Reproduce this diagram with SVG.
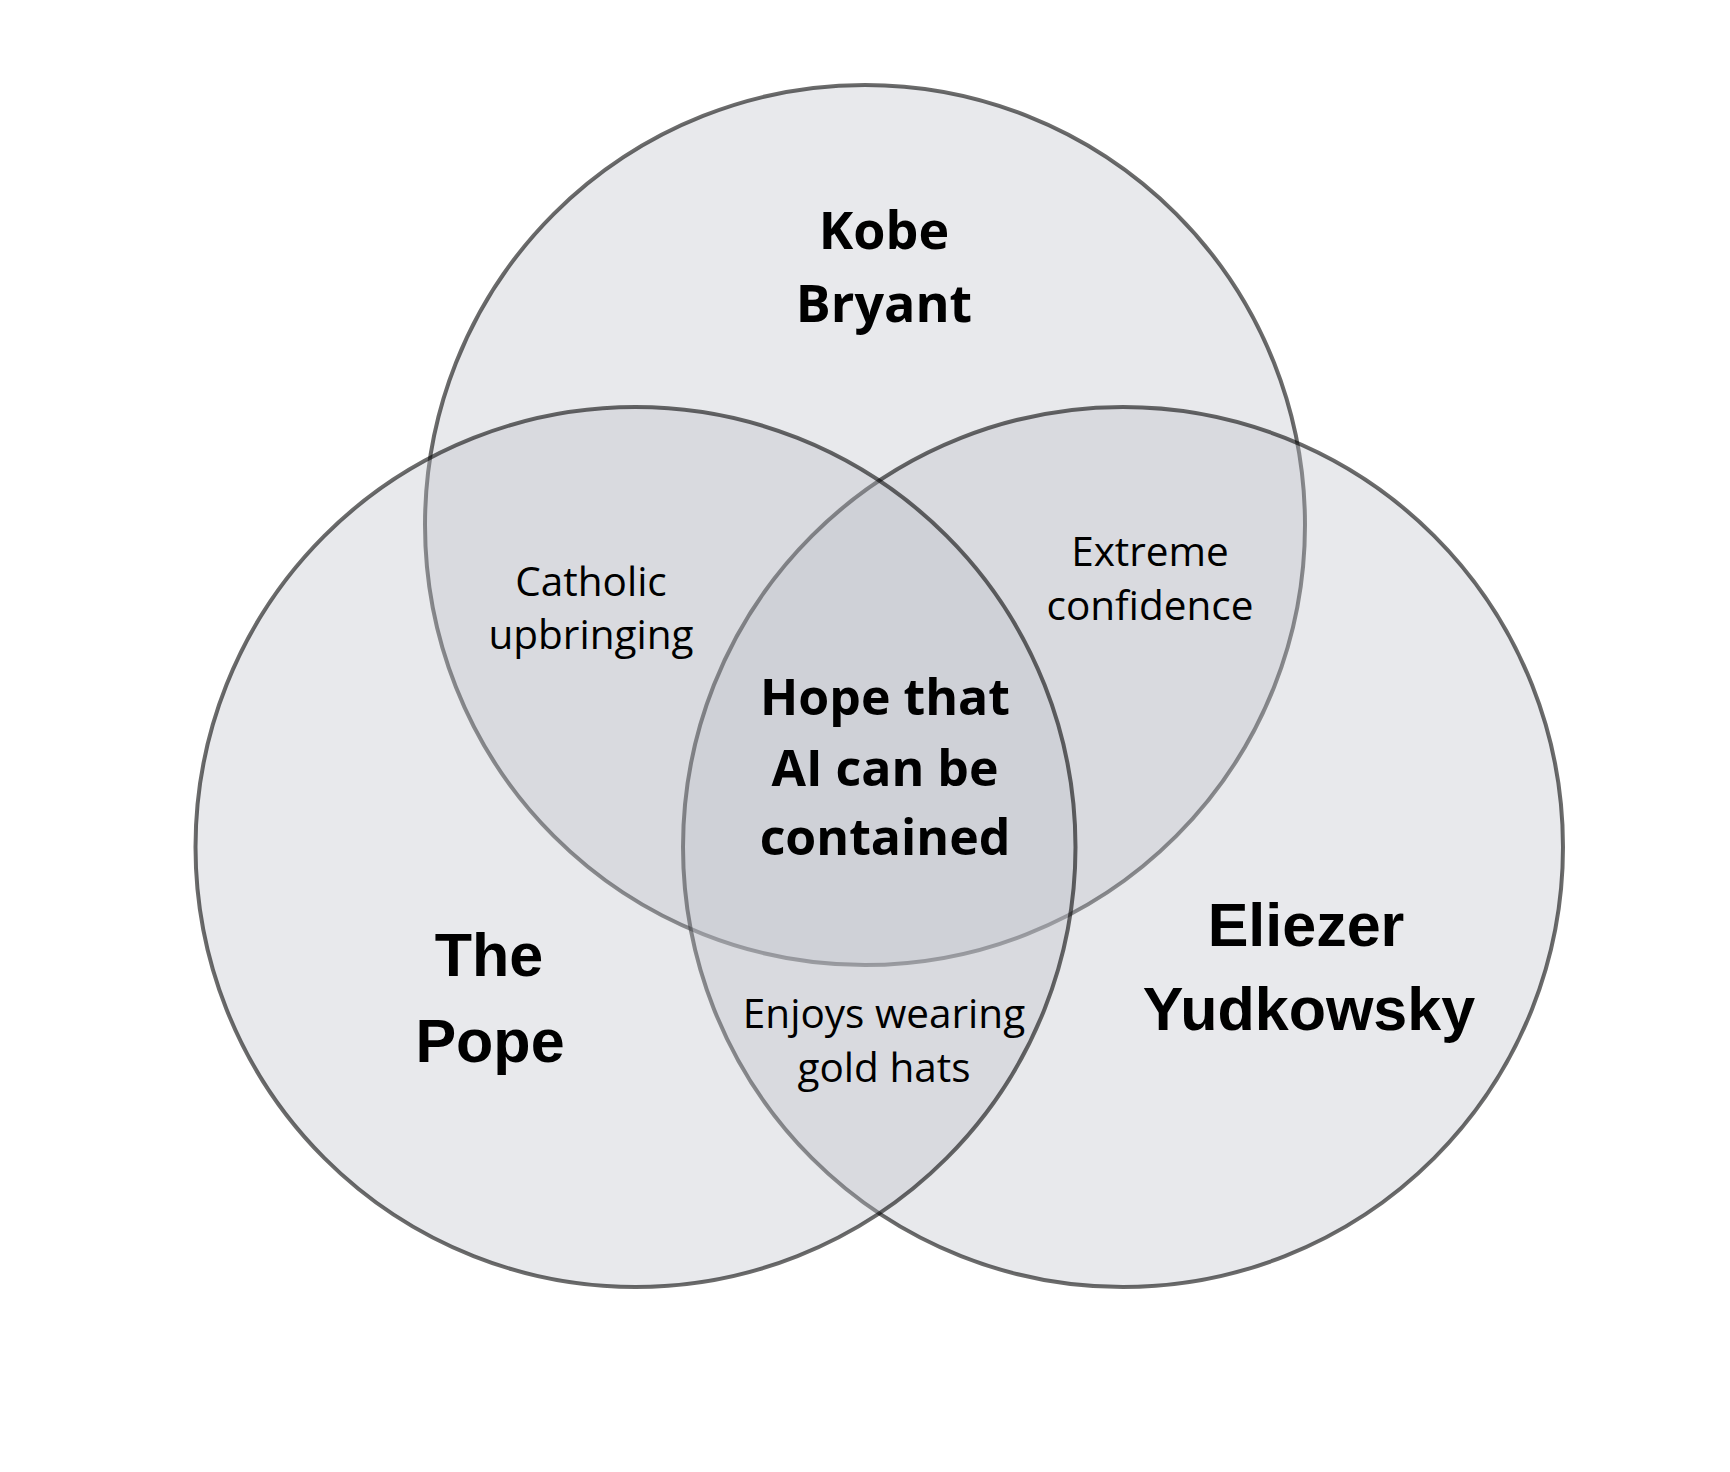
<svg xmlns="http://www.w3.org/2000/svg" width="1730" height="1472" viewBox="0 0 1730 1472">
<style>
.c{fill:#bdc0c9;fill-opacity:0.35;stroke:#000;stroke-opacity:0.58;stroke-width:4}
.big{font-family:"Liberation Sans",Arial,sans-serif;font-weight:700;font-size:61px;fill:#000;text-anchor:middle}
.bold{font-family:"Open Sans","Noto Sans",sans-serif;font-weight:700;font-size:52px;fill:#000;text-anchor:middle}
.mid{font-family:"Open Sans","Noto Sans",sans-serif;font-weight:700;font-size:50px;fill:#000;text-anchor:middle}
.small{font-family:"Open Sans","Noto Sans",sans-serif;font-weight:400;font-size:40.5px;fill:#000;text-anchor:middle}
</style>
<rect width="1730" height="1472" fill="#fff"/>
<g id="kobe">
<circle class="c" cx="865" cy="525" r="440"/>
</g>
<g id="eliezer">
<circle class="c" cx="1123" cy="847" r="440"/>
</g>
<g id="pope">
<circle class="c" cx="635.5" cy="847" r="440"/>
</g>
<g id="labels">
<text class="bold" x="884" y="249">Kobe</text>
<text class="bold" x="884" y="322">Bryant</text>
<text class="big" x="489" y="976">The</text>
<text class="big" x="490" y="1062">Pope</text>
<text class="big" x="1306" y="946">Eliezer</text>
<text class="big" x="1309" y="1030">Yudkowsky</text>
<text class="mid" x="885" y="715">Hope that</text>
<text class="mid" x="885" y="786">AI can be</text>
<text class="mid" x="885" y="855">contained</text>
<text class="small" x="591" y="596">Catholic</text>
<text class="small" x="591" y="649">upbringing</text>
<text class="small" x="1150" y="566">Extreme</text>
<text class="small" x="1150" y="620">confidence</text>
<text class="small" x="884" y="1028">Enjoys wearing</text>
<text class="small" x="884" y="1082">gold hats</text>
</g>
</svg>
